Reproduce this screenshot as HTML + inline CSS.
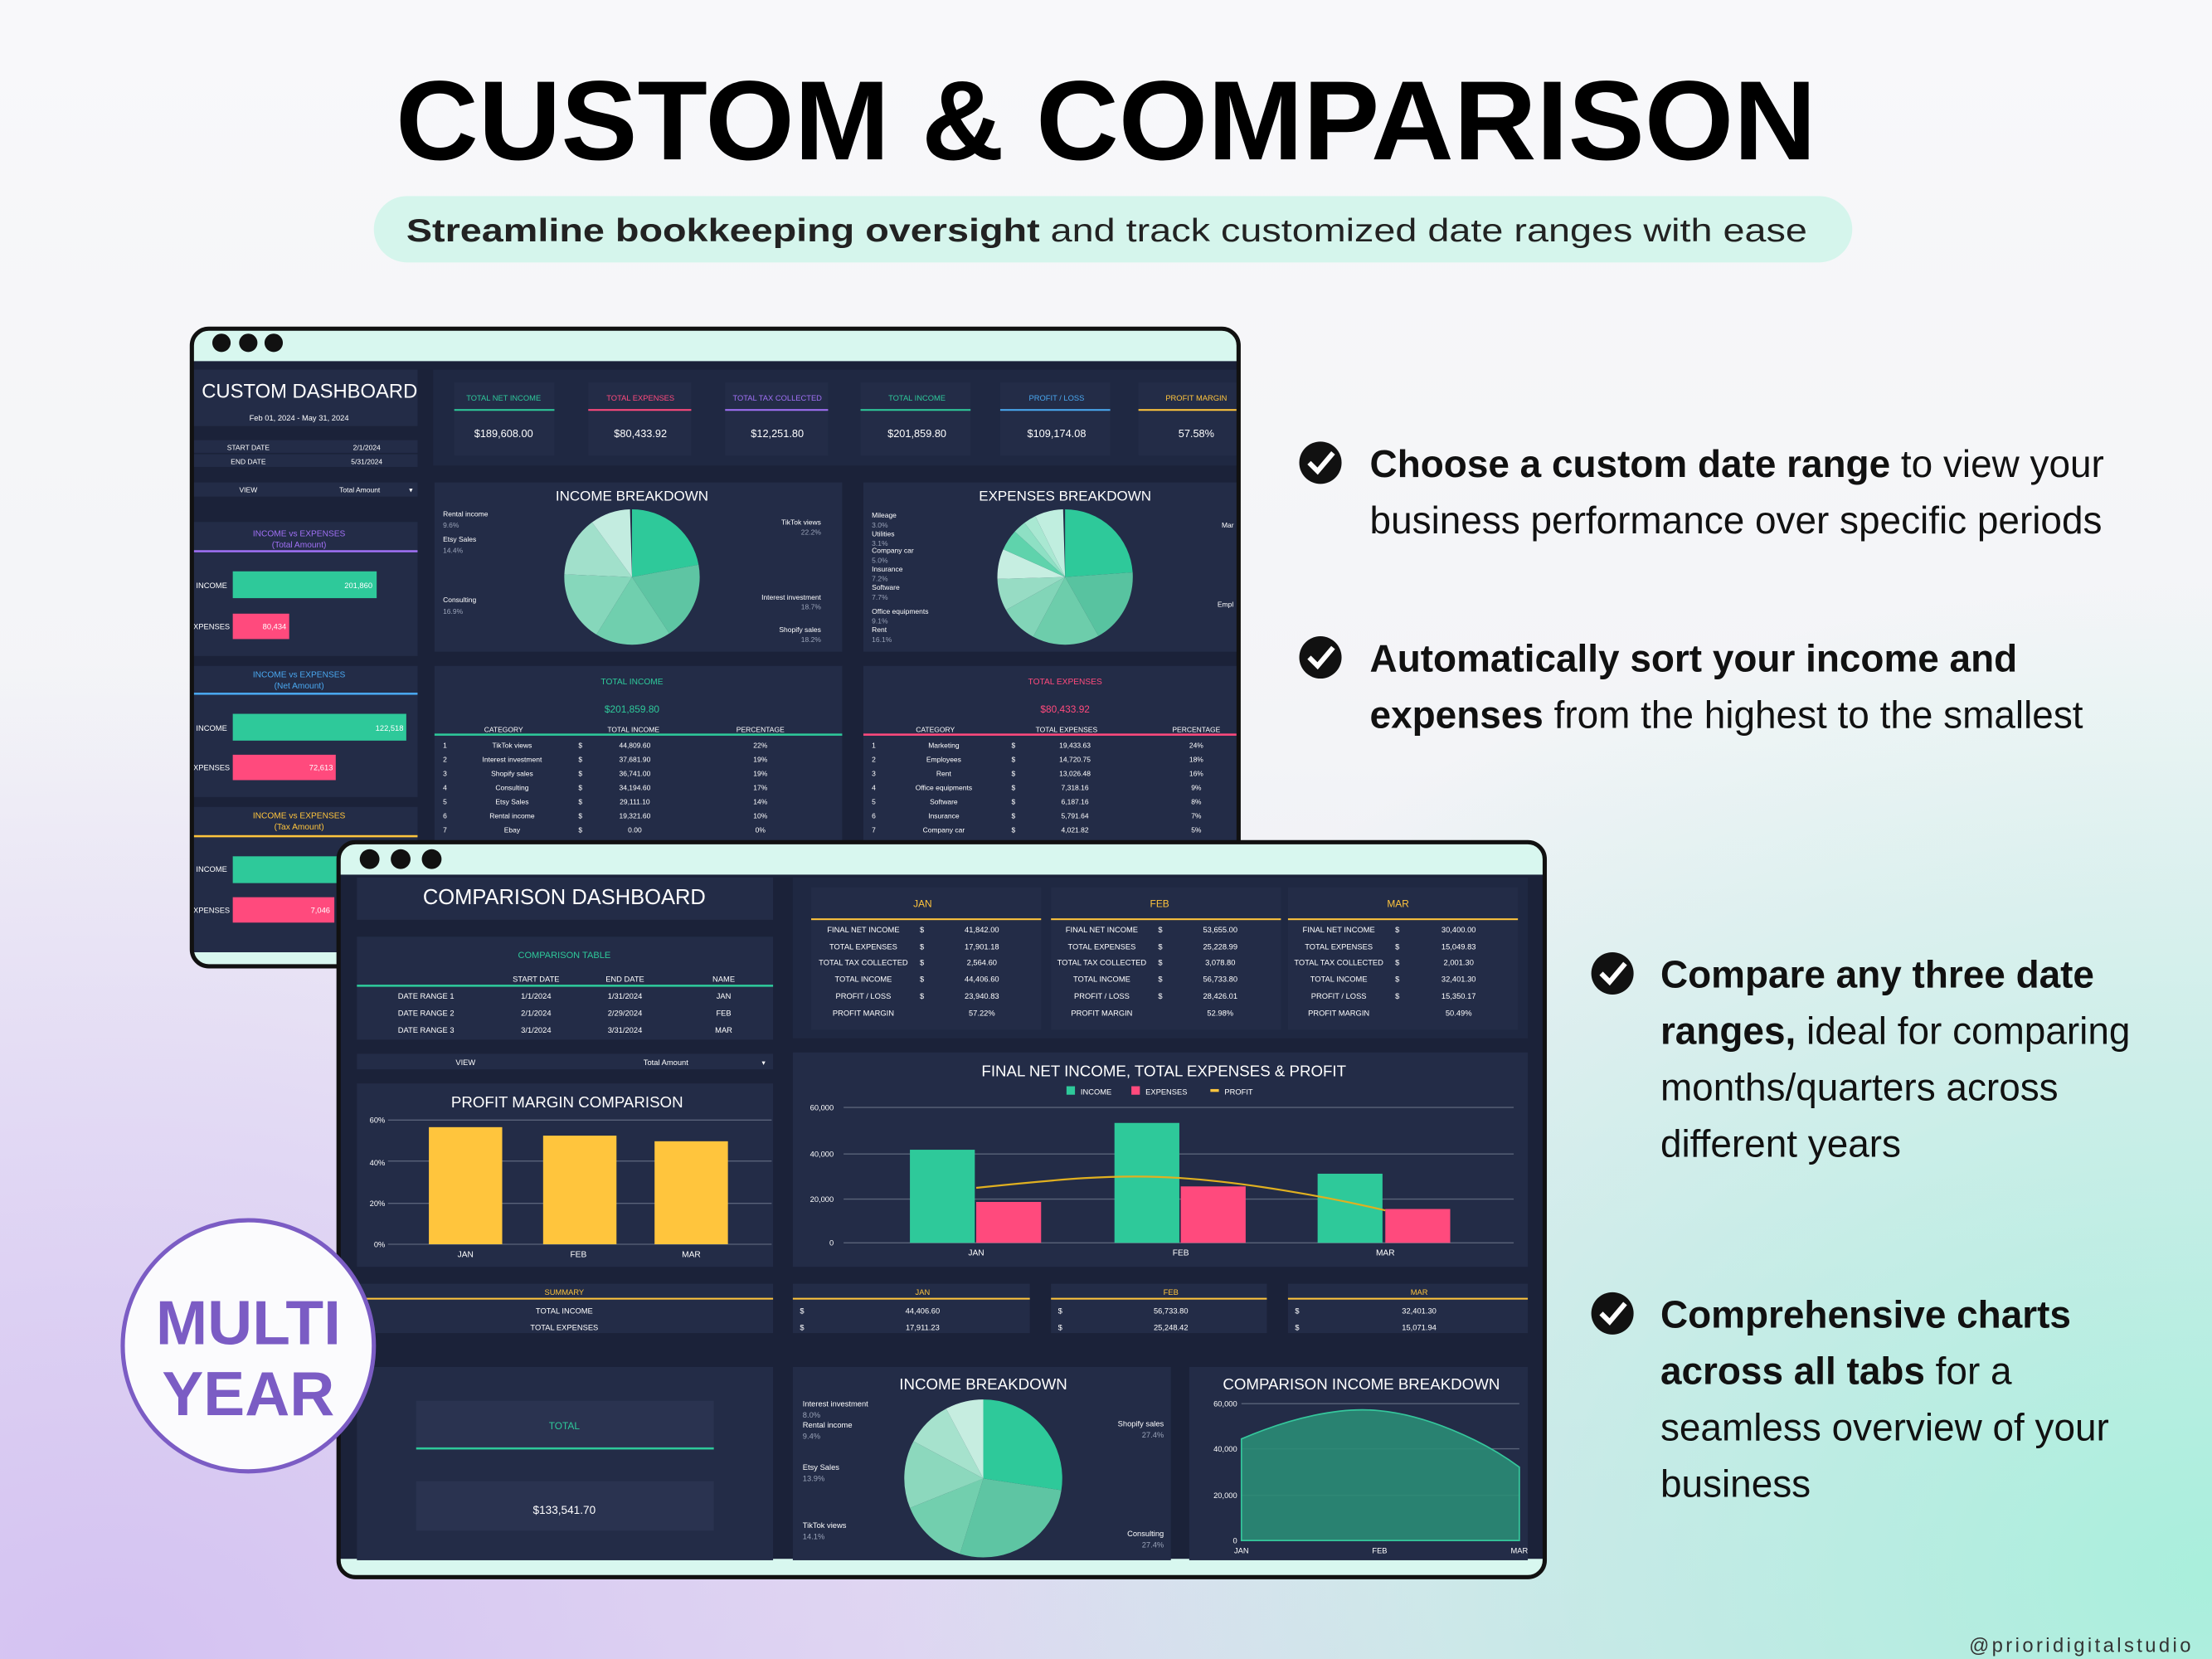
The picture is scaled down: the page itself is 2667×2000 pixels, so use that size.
<!DOCTYPE html>
<html><head><meta charset="utf-8"><style>
html,body{margin:0;padding:0;background:#f5f6f8}
svg{display:block}
text{font-family:"Liberation Sans Narrow","Liberation Sans",sans-serif}
.n{font-family:"Liberation Sans",sans-serif}
.w{fill:#fff}.g{fill:#2ec99a}.p{fill:#ff4a7d}.y{fill:#ffc53d}.pu{fill:#a070f5}.b{fill:#4aa8f0}.gr{fill:#9aa3b8}
.t5{font-size:5.5px}.t6{font-size:6.5px}.t7{font-size:7.5px}
</style></head><body>
<svg width="2667" height="2000" viewBox="0 0 1568 1176" preserveAspectRatio="none" xmlns="http://www.w3.org/2000/svg">
<defs>
<linearGradient id="bg" x1="0" y1="0" x2="0" y2="1"><stop offset="0" stop-color="#f8f8fa"/><stop offset="0.45" stop-color="#f3f4f7"/><stop offset="1" stop-color="#e6e2f2"/></linearGradient>
<radialGradient id="lav" cx="0.05" cy="1" r="0.6"><stop offset="0" stop-color="#d4c2f2"/><stop offset="1" stop-color="#d4c2f2" stop-opacity="0"/></radialGradient>
<radialGradient id="mint" cx="1" cy="0.95" r="0.6"><stop offset="0" stop-color="#a9efdc"/><stop offset="1" stop-color="#a9efdc" stop-opacity="0"/></radialGradient>
<clipPath id="c1"><rect x="137" y="234" width="740" height="450" rx="11"/></clipPath>
<clipPath id="c2"><rect x="241" y="598" width="853" height="519" rx="11"/></clipPath>
</defs>
<rect width="1568" height="1176" fill="url(#bg)"/>
<rect width="1568" height="1176" fill="url(#lav)"/>
<rect width="1568" height="1176" fill="url(#mint)"/>

<!-- title -->
<text class="n" x="784" y="113" text-anchor="middle" font-size="80" font-weight="bold" textLength="1007" lengthAdjust="spacingAndGlyphs" fill="#000">CUSTOM &amp; COMPARISON</text>
<rect x="265" y="139" width="1048" height="47" rx="23.5" fill="#d5f5ec"/>
<text class="n" x="288" y="171" font-size="23" fill="#222" textLength="993" lengthAdjust="spacingAndGlyphs"><tspan font-weight="bold">Streamline bookkeeping oversight</tspan> and track customized date ranges with ease</text>

<!-- right text -->
<g class="n" font-size="27" fill="#111">
<circle cx="936" cy="328" r="15" fill="#111"/><polyline points="928,328 934,334 945,321" fill="none" stroke="#fff" stroke-width="3.5"/>
<text x="971" y="338"><tspan font-weight="bold">Choose a custom date range</tspan> to view your</text>
<text x="971" y="378">business performance over specific periods</text>
<circle cx="936" cy="466" r="15" fill="#111"/><polyline points="928,466 934,472 945,459" fill="none" stroke="#fff" stroke-width="3.5"/>
<text x="971" y="476" font-weight="bold">Automatically sort your income and</text>
<text x="971" y="516"><tspan font-weight="bold">expenses</tspan> from the highest to the smallest</text>
<circle cx="1143" cy="690" r="15" fill="#111"/><polyline points="1135,690 1141,696 1152,683" fill="none" stroke="#fff" stroke-width="3.5"/>
<text x="1177" y="700" font-weight="bold">Compare any three date</text>
<text x="1177" y="740"><tspan font-weight="bold">ranges,</tspan> ideal for comparing</text>
<text x="1177" y="780">months/quarters across</text>
<text x="1177" y="820">different years</text>
<circle cx="1143" cy="931" r="15" fill="#111"/><polyline points="1135,931 1141,937 1152,924" fill="none" stroke="#fff" stroke-width="3.5"/>
<text x="1177" y="941" font-weight="bold">Comprehensive charts</text>
<text x="1177" y="981"><tspan font-weight="bold">across all tabs</tspan> for a</text>
<text x="1177" y="1021">seamless overview of your</text>
<text x="1177" y="1061">business</text>
</g>
<text class="n" x="1555" y="1171" text-anchor="end" font-size="14" letter-spacing="2" fill="#333">@prioridigitalstudio</text>

<!-- WINDOW 1 -->
<g clip-path="url(#c1)">
<rect x="136" y="233" width="742" height="452" fill="#1b2239"/>
<rect x="136" y="233" width="742" height="23" fill="#d8f7ef"/>
<rect x="136" y="675" width="742" height="10" fill="#d8f7ef"/>
<circle cx="157" cy="243" r="6.5" fill="#111"/><circle cx="176" cy="243" r="6.5" fill="#111"/><circle cx="194" cy="243" r="6.5" fill="#111"/>
<!-- left column -->
<rect x="137" y="262" width="159" height="40" fill="#232c47"/>
<text x="143" y="282" class="w" font-size="14">CUSTOM DASHBOARD</text>
<text x="212" y="298" class="w t5" text-anchor="middle">Feb 01, 2024 - May 31, 2024</text>
<rect x="137" y="312" width="159" height="9" fill="#232c47"/><rect x="137" y="322" width="159" height="9" fill="#232c47"/>
<text x="176" y="319" class="w" font-size="5" text-anchor="middle">START DATE</text><text x="260" y="319" class="w" font-size="5" text-anchor="middle">2/1/2024</text>
<text x="176" y="329" class="w" font-size="5" text-anchor="middle">END DATE</text><text x="260" y="329" class="w" font-size="5" text-anchor="middle">5/31/2024</text>
<rect x="137" y="342" width="159" height="10" fill="#232c47"/>
<text x="176" y="349" class="w" font-size="5" text-anchor="middle">VIEW</text><text x="255" y="349" class="w" font-size="5" text-anchor="middle">Total Amount</text><text x="290" y="349" class="w" font-size="5">▾</text>
<rect x="137" y="370" width="159" height="95" fill="#232c47"/>
<text x="212" y="380" class="pu" font-size="6" text-anchor="middle">INCOME vs EXPENSES</text><text x="212" y="388" class="pu" font-size="6" text-anchor="middle">(Total Amount)</text>
<rect x="137" y="390" width="159" height="1.5" fill="#a070f5"/>
<rect x="165" y="405" width="102" height="19" fill="#2ec99a"/><rect x="165" y="435" width="40" height="18" fill="#ff4a7d"/>
<text x="139" y="417" class="w" font-size="5.5">INCOME</text><text x="264" y="417" class="w" font-size="5.5" text-anchor="end">201,860</text>
<text x="137" y="446" class="w" font-size="5.5">XPENSES</text><text x="203" y="446" class="w" font-size="5.5" text-anchor="end">80,434</text>
<rect x="137" y="472" width="159" height="93" fill="#232c47"/>
<text x="212" y="480" class="b" font-size="6" text-anchor="middle">INCOME vs EXPENSES</text><text x="212" y="488" class="b" font-size="6" text-anchor="middle">(Net Amount)</text>
<rect x="137" y="491" width="159" height="1.5" fill="#4aa8f0"/>
<rect x="165" y="506" width="123" height="19" fill="#2ec99a"/><rect x="165" y="535" width="73" height="18" fill="#ff4a7d"/>
<text x="139" y="518" class="w" font-size="5.5">INCOME</text><text x="286" y="518" class="w" font-size="5.5" text-anchor="end">122,518</text>
<text x="137" y="546" class="w" font-size="5.5">XPENSES</text><text x="236" y="546" class="w" font-size="5.5" text-anchor="end">72,613</text>
<rect x="137" y="572" width="159" height="103" fill="#232c47"/>
<text x="212" y="580" class="y" font-size="6" text-anchor="middle">INCOME vs EXPENSES</text><text x="212" y="588" class="y" font-size="6" text-anchor="middle">(Tax Amount)</text>
<rect x="137" y="592" width="159" height="1.5" fill="#ffc53d"/>
<rect x="165" y="607" width="75" height="19" fill="#2ec99a"/><rect x="165" y="636" width="72" height="18" fill="#ff4a7d"/>
<text x="139" y="618" class="w" font-size="5.5">INCOME</text>
<text x="137" y="647" class="w" font-size="5.5">XPENSES</text><text x="234" y="647" class="w" font-size="5.5" text-anchor="end">7,046</text>
<!-- KPI -->
<rect x="307" y="262" width="571" height="68" fill="#1f2842"/>
<g font-size="5.5">
<rect x="322" y="271" width="71" height="52" fill="#232c47"/><text x="357" y="284" class="g" text-anchor="middle">TOTAL NET INCOME</text><rect x="322" y="290" width="71" height="1.2" fill="#2ec99a"/><text x="357" y="310" class="w t7" text-anchor="middle">$189,608.00</text>
<rect x="417" y="271" width="73" height="52" fill="#232c47"/><text x="454" y="284" class="p" text-anchor="middle">TOTAL EXPENSES</text><rect x="417" y="290" width="73" height="1.2" fill="#ff4a7d"/><text x="454" y="310" class="w t7" text-anchor="middle">$80,433.92</text>
<rect x="514" y="271" width="73" height="52" fill="#232c47"/><text x="551" y="284" class="pu" text-anchor="middle">TOTAL TAX COLLECTED</text><rect x="514" y="290" width="73" height="1.2" fill="#a070f5"/><text x="551" y="310" class="w t7" text-anchor="middle">$12,251.80</text>
<rect x="610" y="271" width="78" height="52" fill="#232c47"/><text x="650" y="284" class="g" text-anchor="middle">TOTAL INCOME</text><rect x="610" y="290" width="78" height="1.2" fill="#2ec99a"/><text x="650" y="310" class="w t7" text-anchor="middle">$201,859.80</text>
<rect x="709" y="271" width="78" height="52" fill="#232c47"/><text x="749" y="284" class="b" text-anchor="middle">PROFIT / LOSS</text><rect x="709" y="290" width="78" height="1.2" fill="#4aa8f0"/><text x="749" y="310" class="w t7" text-anchor="middle">$109,174.08</text>
<rect x="807" y="271" width="71" height="52" fill="#232c47"/><text x="848" y="284" class="y" text-anchor="middle">PROFIT MARGIN</text><rect x="807" y="290" width="71" height="1.2" fill="#ffc53d"/><text x="848" y="310" class="w t7" text-anchor="middle">57.58%</text>
</g>
<!-- income breakdown -->
<rect x="308" y="342" width="289" height="120" fill="#232c47"/>
<text x="448" y="355" class="w" font-size="10" text-anchor="middle">INCOME BREAKDOWN</text>
<g transform="rotate(-90 448 409)" fill="none" stroke-width="48">
<circle cx="448" cy="409" r="24" pathLength="100" stroke="#2ec99a" stroke-dasharray="22.2 100"/>
<circle cx="448" cy="409" r="24" pathLength="100" stroke="#5ec5a3" stroke-dasharray="18.7 100" stroke-dashoffset="-22.2"/>
<circle cx="448" cy="409" r="24" pathLength="100" stroke="#70cfae" stroke-dasharray="18.2 100" stroke-dashoffset="-40.9"/>
<circle cx="448" cy="409" r="24" pathLength="100" stroke="#86d7bb" stroke-dasharray="16.9 100" stroke-dashoffset="-59.1"/>
<circle cx="448" cy="409" r="24" pathLength="100" stroke="#a1e0cb" stroke-dasharray="14.4 100" stroke-dashoffset="-76"/>
<circle cx="448" cy="409" r="24" pathLength="100" stroke="#c3ece0" stroke-dasharray="9.6 100" stroke-dashoffset="-90.4"/>
</g>
<g font-size="5" class="w"><text x="314" y="366">Rental income</text><text x="314" y="374" class="gr">9.6%</text><text x="314" y="384">Etsy Sales</text><text x="314" y="392" class="gr">14.4%</text><text x="314" y="427">Consulting</text><text x="314" y="435" class="gr">16.9%</text>
<text x="582" y="372" text-anchor="end">TikTok views</text><text x="582" y="379" text-anchor="end" class="gr">22.2%</text><text x="582" y="425" text-anchor="end">Interest investment</text><text x="582" y="432" text-anchor="end" class="gr">18.7%</text><text x="582" y="448" text-anchor="end">Shopify sales</text><text x="582" y="455" text-anchor="end" class="gr">18.2%</text></g>
<!-- expenses breakdown -->
<rect x="612" y="342" width="266" height="120" fill="#232c47"/>
<text x="755" y="355" class="w" font-size="10" text-anchor="middle">EXPENSES BREAKDOWN</text>
<g transform="rotate(-90 755 409)" fill="none" stroke-width="48">
<circle cx="755" cy="409" r="24" pathLength="100" stroke="#2ec99a" stroke-dasharray="24 100"/>
<circle cx="755" cy="409" r="24" pathLength="100" stroke="#58c3a0" stroke-dasharray="18 100" stroke-dashoffset="-24"/>
<circle cx="755" cy="409" r="24" pathLength="100" stroke="#6dcdab" stroke-dasharray="16.1 100" stroke-dashoffset="-42"/>
<circle cx="755" cy="409" r="24" pathLength="100" stroke="#82d5b8" stroke-dasharray="9.1 100" stroke-dashoffset="-58.1"/>
<circle cx="755" cy="409" r="24" pathLength="100" stroke="#97dcc4" stroke-dasharray="7.7 100" stroke-dashoffset="-67.2"/>
<circle cx="755" cy="409" r="24" pathLength="100" stroke="#c6eee1" stroke-dasharray="7.2 100" stroke-dashoffset="-74.9"/>
<circle cx="755" cy="409" r="24" pathLength="100" stroke="#5fd3ac" stroke-dasharray="5 100" stroke-dashoffset="-82.1"/>
<circle cx="755" cy="409" r="24" pathLength="100" stroke="#8ee0c4" stroke-dasharray="3.1 100" stroke-dashoffset="-87.1"/>
<circle cx="755" cy="409" r="24" pathLength="100" stroke="#a9e8d2" stroke-dasharray="3 100" stroke-dashoffset="-90.2"/>
<circle cx="755" cy="409" r="24" pathLength="100" stroke="#c0eedf" stroke-dasharray="6.8 100" stroke-dashoffset="-93.2"/>
</g>
<g font-size="5" class="w"><text x="618" y="367">Mileage</text><text x="618" y="374" class="gr">3.0%</text><text x="618" y="380">Utilities</text><text x="618" y="387" class="gr">3.1%</text><text x="618" y="392">Company car</text><text x="618" y="399" class="gr">5.0%</text><text x="618" y="405">Insurance</text><text x="618" y="412" class="gr">7.2%</text><text x="618" y="418">Software</text><text x="618" y="425" class="gr">7.7%</text><text x="618" y="435">Office equipments</text><text x="618" y="442" class="gr">9.1%</text><text x="618" y="448">Rent</text><text x="618" y="455" class="gr">16.1%</text><text x="866" y="374">Mar</text><text x="863" y="430">Empl</text></g>
<!-- tables -->
<rect x="308" y="472" width="289" height="125" fill="#232c47"/>
<text x="448" y="485" class="g" font-size="6" text-anchor="middle">TOTAL INCOME</text>
<text x="448" y="505" class="g" font-size="7" text-anchor="middle">$201,859.80</text>
<g font-size="5" class="w" text-anchor="middle"><text x="357" y="519">CATEGORY</text><text x="449" y="519">TOTAL INCOME</text><text x="539" y="519">PERCENTAGE</text></g>
<rect x="308" y="520" width="289" height="1.5" fill="#2ec99a"/>
<g font-size="5" class="w">
<text x="314" y="530">1</text><text x="363" y="530" text-anchor="middle">TikTok views</text><text x="410" y="530">$</text><text x="450" y="530" text-anchor="middle">44,809.60</text><text x="539" y="530" text-anchor="middle">22%</text>
<text x="314" y="540">2</text><text x="363" y="540" text-anchor="middle">Interest investment</text><text x="410" y="540">$</text><text x="450" y="540" text-anchor="middle">37,681.90</text><text x="539" y="540" text-anchor="middle">19%</text>
<text x="314" y="550">3</text><text x="363" y="550" text-anchor="middle">Shopify sales</text><text x="410" y="550">$</text><text x="450" y="550" text-anchor="middle">36,741.00</text><text x="539" y="550" text-anchor="middle">19%</text>
<text x="314" y="560">4</text><text x="363" y="560" text-anchor="middle">Consulting</text><text x="410" y="560">$</text><text x="450" y="560" text-anchor="middle">34,194.60</text><text x="539" y="560" text-anchor="middle">17%</text>
<text x="314" y="570">5</text><text x="363" y="570" text-anchor="middle">Etsy Sales</text><text x="410" y="570">$</text><text x="450" y="570" text-anchor="middle">29,111.10</text><text x="539" y="570" text-anchor="middle">14%</text>
<text x="314" y="580">6</text><text x="363" y="580" text-anchor="middle">Rental income</text><text x="410" y="580">$</text><text x="450" y="580" text-anchor="middle">19,321.60</text><text x="539" y="580" text-anchor="middle">10%</text>
<text x="314" y="590">7</text><text x="363" y="590" text-anchor="middle">Ebay</text><text x="410" y="590">$</text><text x="450" y="590" text-anchor="middle">0.00</text><text x="539" y="590" text-anchor="middle">0%</text>
</g>
<rect x="612" y="472" width="266" height="125" fill="#232c47"/>
<text x="755" y="485" class="p" font-size="6" text-anchor="middle">TOTAL EXPENSES</text>
<text x="755" y="505" class="p" font-size="7" text-anchor="middle">$80,433.92</text>
<g font-size="5" class="w" text-anchor="middle"><text x="663" y="519">CATEGORY</text><text x="756" y="519">TOTAL EXPENSES</text><text x="848" y="519">PERCENTAGE</text></g>
<rect x="612" y="520" width="266" height="1.5" fill="#ff4a7d"/>
<g font-size="5" class="w">
<text x="618" y="530">1</text><text x="669" y="530" text-anchor="middle">Marketing</text><text x="717" y="530">$</text><text x="762" y="530" text-anchor="middle">19,433.63</text><text x="848" y="530" text-anchor="middle">24%</text>
<text x="618" y="540">2</text><text x="669" y="540" text-anchor="middle">Employees</text><text x="717" y="540">$</text><text x="762" y="540" text-anchor="middle">14,720.75</text><text x="848" y="540" text-anchor="middle">18%</text>
<text x="618" y="550">3</text><text x="669" y="550" text-anchor="middle">Rent</text><text x="717" y="550">$</text><text x="762" y="550" text-anchor="middle">13,026.48</text><text x="848" y="550" text-anchor="middle">16%</text>
<text x="618" y="560">4</text><text x="669" y="560" text-anchor="middle">Office equipments</text><text x="717" y="560">$</text><text x="762" y="560" text-anchor="middle">7,318.16</text><text x="848" y="560" text-anchor="middle">9%</text>
<text x="618" y="570">5</text><text x="669" y="570" text-anchor="middle">Software</text><text x="717" y="570">$</text><text x="762" y="570" text-anchor="middle">6,187.16</text><text x="848" y="570" text-anchor="middle">8%</text>
<text x="618" y="580">6</text><text x="669" y="580" text-anchor="middle">Insurance</text><text x="717" y="580">$</text><text x="762" y="580" text-anchor="middle">5,791.64</text><text x="848" y="580" text-anchor="middle">7%</text>
<text x="618" y="590">7</text><text x="669" y="590" text-anchor="middle">Company car</text><text x="717" y="590">$</text><text x="762" y="590" text-anchor="middle">4,021.82</text><text x="848" y="590" text-anchor="middle">5%</text>
</g>
</g>
<rect x="136" y="233" width="742" height="452" rx="12" fill="none" stroke="#111" stroke-width="3"/>

<!-- WINDOW 2 -->
<g clip-path="url(#c2)">
<rect x="240" y="597" width="855" height="521" fill="#1b2239"/>
<rect x="240" y="597" width="855" height="23" fill="#d8f7ef"/>
<rect x="240" y="1105" width="855" height="13" fill="#d8f7ef"/>
<circle cx="262" cy="609" r="7" fill="#111"/><circle cx="284" cy="609" r="7" fill="#111"/><circle cx="306" cy="609" r="7" fill="#111"/>
<rect x="253" y="622" width="295" height="30" fill="#232c47"/>
<text x="400" y="641" class="w" font-size="15" text-anchor="middle">COMPARISON DASHBOARD</text>
<rect x="253" y="664" width="295" height="73" fill="#232c47"/>
<text x="400" y="679" class="g" font-size="6.5" text-anchor="middle">COMPARISON TABLE</text>
<g font-size="5.5" class="w" text-anchor="middle"><text x="380" y="696">START DATE</text><text x="443" y="696">END DATE</text><text x="513" y="696">NAME</text></g>
<rect x="253" y="698" width="295" height="1.5" fill="#2ec99a"/>
<g font-size="5.5" class="w" text-anchor="middle">
<text x="302" y="708">DATE RANGE 1</text><text x="380" y="708">1/1/2024</text><text x="443" y="708">1/31/2024</text><text x="513" y="708">JAN</text>
<text x="302" y="720">DATE RANGE 2</text><text x="380" y="720">2/1/2024</text><text x="443" y="720">2/29/2024</text><text x="513" y="720">FEB</text>
<text x="302" y="732">DATE RANGE 3</text><text x="380" y="732">3/1/2024</text><text x="443" y="732">3/31/2024</text><text x="513" y="732">MAR</text></g>
<rect x="253" y="747" width="295" height="11" fill="#232c47"/>
<text x="330" y="755" class="w t5" text-anchor="middle">VIEW</text><text x="472" y="755" class="w t5" text-anchor="middle">Total Amount</text><text x="540" y="755" class="w" font-size="5">▾</text>
<!-- profit margin -->
<rect x="253" y="768" width="295" height="130" fill="#232c47"/>
<text x="402" y="785" class="w" font-size="11" text-anchor="middle">PROFIT MARGIN COMPARISON</text>
<g stroke="#5a6379" stroke-width="0.8"><line x1="275" y1="794" x2="547" y2="794"/><line x1="275" y1="823" x2="547" y2="823"/><line x1="275" y1="853" x2="547" y2="853"/><line x1="275" y1="882" x2="547" y2="882"/></g>
<g font-size="5.5" class="w" text-anchor="end"><text x="273" y="796">60%</text><text x="273" y="826">40%</text><text x="273" y="855">20%</text><text x="273" y="884">0%</text></g>
<rect x="304" y="799" width="52" height="83" fill="#ffc53d"/><rect x="385" y="805" width="52" height="77" fill="#ffc53d"/><rect x="464" y="809" width="52" height="73" fill="#ffc53d"/>
<g font-size="6" class="w" text-anchor="middle"><text x="330" y="891">JAN</text><text x="410" y="891">FEB</text><text x="490" y="891">MAR</text></g>
<!-- month tables -->
<rect x="562" y="622" width="521" height="114" fill="#1f2842"/>
<g font-size="5.5" class="w">
<rect x="575" y="629" width="163" height="101" fill="#232c47"/><rect x="745" y="629" width="163" height="101" fill="#232c47"/><rect x="913" y="629" width="163" height="101" fill="#232c47"/>
<text x="654" y="643" class="y" font-size="7" text-anchor="middle">JAN</text><text x="822" y="643" class="y" font-size="7" text-anchor="middle">FEB</text><text x="991" y="643" class="y" font-size="7" text-anchor="middle">MAR</text>
<rect x="575" y="651" width="163" height="1.2" fill="#ffc53d"/><rect x="745" y="651" width="163" height="1.2" fill="#ffc53d"/><rect x="913" y="651" width="163" height="1.2" fill="#ffc53d"/>
<g text-anchor="middle">
<text x="612" y="661">FINAL NET INCOME</text><text x="612" y="673">TOTAL EXPENSES</text><text x="612" y="684">TOTAL TAX COLLECTED</text><text x="612" y="696">TOTAL INCOME</text><text x="612" y="708">PROFIT / LOSS</text><text x="612" y="720">PROFIT MARGIN</text>
<text x="781" y="661">FINAL NET INCOME</text><text x="781" y="673">TOTAL EXPENSES</text><text x="781" y="684">TOTAL TAX COLLECTED</text><text x="781" y="696">TOTAL INCOME</text><text x="781" y="708">PROFIT / LOSS</text><text x="781" y="720">PROFIT MARGIN</text>
<text x="949" y="661">FINAL NET INCOME</text><text x="949" y="673">TOTAL EXPENSES</text><text x="949" y="684">TOTAL TAX COLLECTED</text><text x="949" y="696">TOTAL INCOME</text><text x="949" y="708">PROFIT / LOSS</text><text x="949" y="720">PROFIT MARGIN</text>
<text x="696" y="661">41,842.00</text><text x="696" y="673">17,901.18</text><text x="696" y="684">2,564.60</text><text x="696" y="696">44,406.60</text><text x="696" y="708">23,940.83</text><text x="696" y="720">57.22%</text>
<text x="865" y="661">53,655.00</text><text x="865" y="673">25,228.99</text><text x="865" y="684">3,078.80</text><text x="865" y="696">56,733.80</text><text x="865" y="708">28,426.01</text><text x="865" y="720">52.98%</text>
<text x="1034" y="661">30,400.00</text><text x="1034" y="673">15,049.83</text><text x="1034" y="684">2,001.30</text><text x="1034" y="696">32,401.30</text><text x="1034" y="708">15,350.17</text><text x="1034" y="720">50.49%</text>
</g>
<text x="652" y="661">$</text><text x="652" y="673">$</text><text x="652" y="684">$</text><text x="652" y="696">$</text><text x="652" y="708">$</text>
<text x="821" y="661">$</text><text x="821" y="673">$</text><text x="821" y="684">$</text><text x="821" y="696">$</text><text x="821" y="708">$</text>
<text x="989" y="661">$</text><text x="989" y="673">$</text><text x="989" y="684">$</text><text x="989" y="696">$</text><text x="989" y="708">$</text>
</g>
<!-- bar chart -->
<rect x="562" y="746" width="521" height="152" fill="#232c47"/>
<text x="825" y="763" class="w" font-size="11" text-anchor="middle">FINAL NET INCOME, TOTAL EXPENSES &amp; PROFIT</text>
<rect x="756" y="770" width="6" height="6" fill="#2ec99a"/><text x="766" y="776" class="w" font-size="5.5">INCOME</text>
<rect x="802" y="770" width="6" height="6" fill="#ff4a7d"/><text x="812" y="776" class="w" font-size="5.5">EXPENSES</text>
<rect x="858" y="772" width="6" height="2" fill="#ffc53d"/><text x="868" y="776" class="w" font-size="5.5">PROFIT</text>
<g stroke="#5a6379" stroke-width="0.8"><line x1="598" y1="785" x2="1073" y2="785"/><line x1="598" y1="818" x2="1073" y2="818"/><line x1="598" y1="850" x2="1073" y2="850"/><line x1="598" y1="881" x2="1073" y2="881"/></g>
<g font-size="5.5" class="w" text-anchor="end"><text x="591" y="787">60,000</text><text x="591" y="820">40,000</text><text x="591" y="852">20,000</text><text x="591" y="883">0</text></g>
<rect x="645" y="815" width="46" height="66" fill="#2ec99a"/><rect x="692" y="852" width="46" height="29" fill="#ff4a7d"/>
<rect x="790" y="796" width="46" height="85" fill="#2ec99a"/><rect x="837" y="841" width="46" height="40" fill="#ff4a7d"/>
<rect x="934" y="832" width="46" height="49" fill="#2ec99a"/><rect x="982" y="857" width="46" height="24" fill="#ff4a7d"/>
<path d="M692,842 C750,836 790,832 836,835 S940,848 982,858" fill="none" stroke="#e0b020" stroke-width="1.3"/>
<g font-size="6" class="w" text-anchor="middle"><text x="692" y="890">JAN</text><text x="837" y="890">FEB</text><text x="982" y="890">MAR</text></g>
<!-- summary -->
<g font-size="5.5">
<rect x="253" y="910" width="295" height="35" fill="#232c47"/><text x="400" y="918" class="y" text-anchor="middle">SUMMARY</text><rect x="253" y="920" width="295" height="1.2" fill="#ffc53d"/>
<text x="400" y="931" class="w" text-anchor="middle">TOTAL INCOME</text><text x="400" y="943" class="w" text-anchor="middle">TOTAL EXPENSES</text>
<rect x="562" y="910" width="168" height="35" fill="#232c47"/><text x="654" y="918" class="y" text-anchor="middle">JAN</text><rect x="562" y="920" width="168" height="1.2" fill="#ffc53d"/>
<text x="567" y="931" class="w">$</text><text x="654" y="931" class="w" text-anchor="middle">44,406.60</text><text x="567" y="943" class="w">$</text><text x="654" y="943" class="w" text-anchor="middle">17,911.23</text>
<rect x="745" y="910" width="153" height="35" fill="#232c47"/><text x="830" y="918" class="y" text-anchor="middle">FEB</text><rect x="745" y="920" width="153" height="1.2" fill="#ffc53d"/>
<text x="750" y="931" class="w">$</text><text x="830" y="931" class="w" text-anchor="middle">56,733.80</text><text x="750" y="943" class="w">$</text><text x="830" y="943" class="w" text-anchor="middle">25,248.42</text>
<rect x="913" y="910" width="170" height="35" fill="#232c47"/><text x="1006" y="918" class="y" text-anchor="middle">MAR</text><rect x="913" y="920" width="170" height="1.2" fill="#ffc53d"/>
<text x="918" y="931" class="w">$</text><text x="1006" y="931" class="w" text-anchor="middle">32,401.30</text><text x="918" y="943" class="w">$</text><text x="1006" y="943" class="w" text-anchor="middle">15,071.94</text>
</g>
<!-- total -->
<rect x="253" y="969" width="295" height="137" fill="#232c47"/>
<rect x="295" y="993" width="211" height="34" fill="#2a3350"/><text x="400" y="1013" class="g" font-size="7" text-anchor="middle">TOTAL</text>
<rect x="295" y="1026" width="211" height="1.5" fill="#2ec99a"/>
<rect x="295" y="1050" width="211" height="35" fill="#2a3350"/><text x="400" y="1073" class="w" font-size="8" text-anchor="middle">$133,541.70</text>
<!-- income breakdown 2 -->
<rect x="562" y="969" width="268" height="137" fill="#232c47"/>
<text x="697" y="985" class="w" font-size="11" text-anchor="middle">INCOME BREAKDOWN</text>
<g transform="rotate(-90 697 1048)" fill="none" stroke-width="56">
<circle cx="697" cy="1048" r="28" pathLength="100" stroke="#2ec99a" stroke-dasharray="27.4 100"/>
<circle cx="697" cy="1048" r="28" pathLength="100" stroke="#5ec5a3" stroke-dasharray="27.4 100" stroke-dashoffset="-27.4"/>
<circle cx="697" cy="1048" r="28" pathLength="100" stroke="#72cfae" stroke-dasharray="14.1 100" stroke-dashoffset="-54.8"/>
<circle cx="697" cy="1048" r="28" pathLength="100" stroke="#8cd8bd" stroke-dasharray="13.9 100" stroke-dashoffset="-68.9"/>
<circle cx="697" cy="1048" r="28" pathLength="100" stroke="#a6e2cd" stroke-dasharray="9.4 100" stroke-dashoffset="-82.8"/>
<circle cx="697" cy="1048" r="28" pathLength="100" stroke="#c6ede0" stroke-dasharray="8 100" stroke-dashoffset="-92.2"/>
</g>
<g font-size="5.5" class="w"><text x="569" y="997">Interest investment</text><text x="569" y="1005" class="gr">8.0%</text><text x="569" y="1012">Rental income</text><text x="569" y="1020" class="gr">9.4%</text><text x="569" y="1042">Etsy Sales</text><text x="569" y="1050" class="gr">13.9%</text><text x="569" y="1083">TikTok views</text><text x="569" y="1091" class="gr">14.1%</text>
<text x="825" y="1011" text-anchor="end">Shopify sales</text><text x="825" y="1019" text-anchor="end" class="gr">27.4%</text><text x="825" y="1089" text-anchor="end">Consulting</text><text x="825" y="1097" text-anchor="end" class="gr">27.4%</text></g>
<!-- comparison area -->
<rect x="843" y="969" width="240" height="137" fill="#232c47"/>
<text x="965" y="985" class="w" font-size="11" text-anchor="middle">COMPARISON INCOME BREAKDOWN</text>
<g stroke="#5a6379" stroke-width="0.8"><line x1="880" y1="995" x2="1077" y2="995"/><line x1="880" y1="1027" x2="1077" y2="1027"/><line x1="880" y1="1060" x2="1077" y2="1060"/><line x1="880" y1="1092" x2="1077" y2="1092"/></g>
<path d="M880,1020 C915,1005 950,997 978,1000 C1010,1003 1050,1020 1077,1040 L1077,1092 L880,1092 Z" fill="#2a8c76" fill-opacity="0.9" stroke="#35c79c" stroke-width="1"/>
<g font-size="5.5" class="w" text-anchor="end"><text x="877" y="997">60,000</text><text x="877" y="1029">40,000</text><text x="877" y="1062">20,000</text><text x="877" y="1094">0</text></g>
<g font-size="5.5" class="w" text-anchor="middle"><text x="880" y="1101">JAN</text><text x="978" y="1101">FEB</text><text x="1077" y="1101">MAR</text></g>
</g>
<rect x="240" y="597" width="855" height="521" rx="12" fill="none" stroke="#111" stroke-width="3"/>

<!-- MULTI YEAR -->
<circle cx="176" cy="954" r="89" fill="#fbfbfd" stroke="#7b5cc4" stroke-width="3"/>
<text class="n" x="176" y="953" text-anchor="middle" font-size="44" font-weight="bold" fill="#7b5cc4">MULTI</text>
<text class="n" x="176" y="1003" text-anchor="middle" font-size="44" font-weight="bold" fill="#7b5cc4">YEAR</text>
</svg>
</body></html>
